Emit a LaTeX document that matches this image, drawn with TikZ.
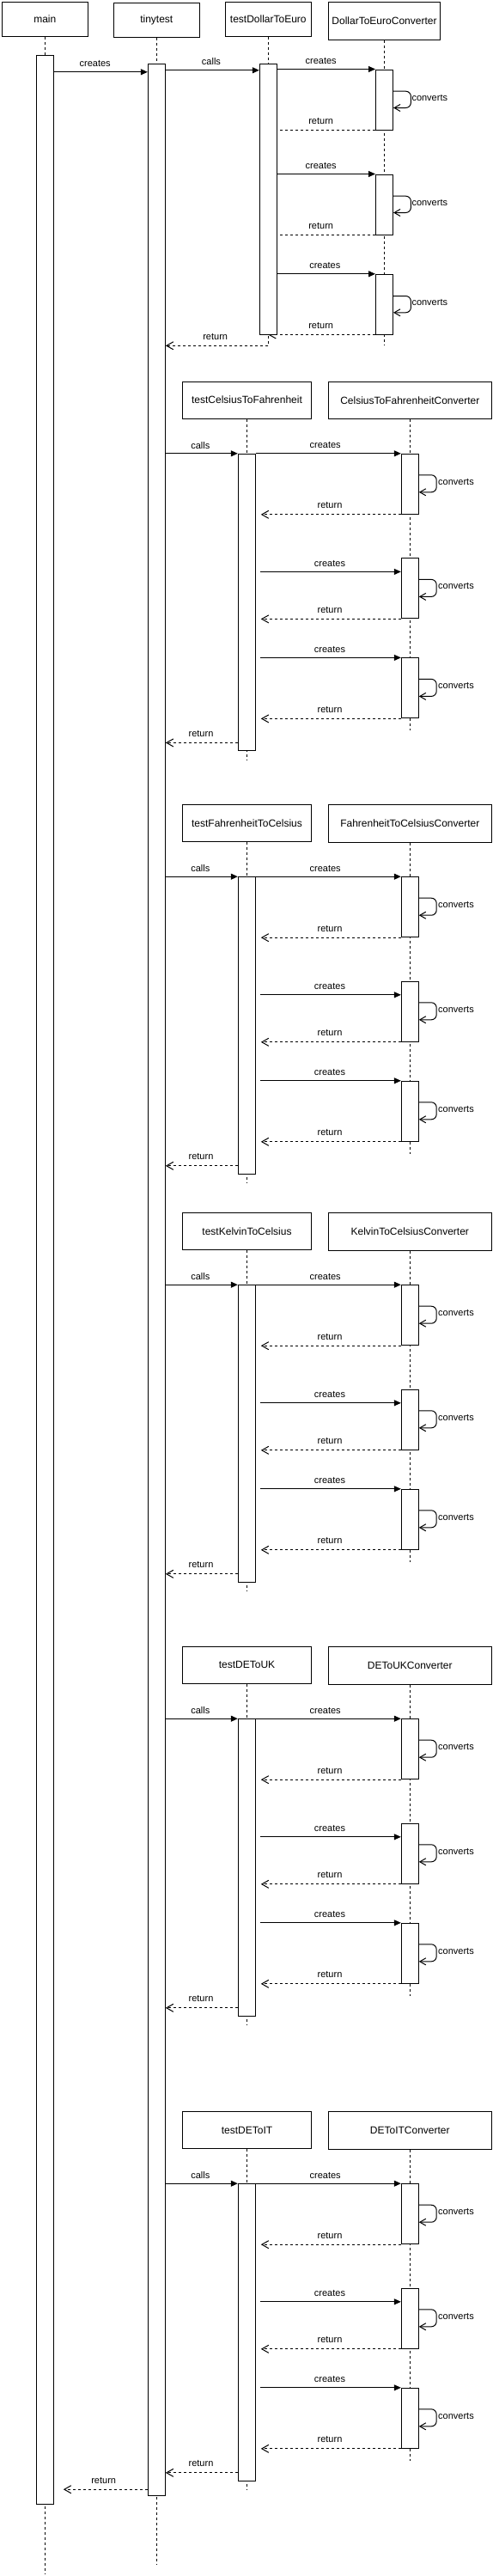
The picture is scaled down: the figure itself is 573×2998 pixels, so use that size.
\documentclass[tikz,border=0pt]{standalone}
\usepackage{fontspec}
\setmainfont{Liberation Sans}
\usetikzlibrary{arrows.meta,calc}
\pgfdeclarelayer{bg}
\pgfsetlayers{bg,main}
\tikzset{
  hdr/.style={draw, line width=1pt, fill=white, inner sep=0pt, font=\fontsize{12}{14}\selectfont},
  actbar/.style={draw, line width=1pt, fill=white, inner sep=0pt, minimum width=20pt},
  life/.style={line width=1pt, dash pattern=on 3pt off 3pt},
  syncmsg/.style={line width=1pt, -{Triangle[length=8pt,width=7pt]}},
  retmsg/.style={line width=1pt, dash pattern=on 3pt off 3pt, -{Straight Barb[length=8pt,width=9pt]}},
  selfmsg/.style={line width=1pt, rounded corners=6pt, -{Straight Barb[length=7pt,width=8pt]}},
  lbl/.style={font=\fontsize{11}{13}\selectfont, inner sep=0pt, anchor=base},
  lblw/.style={font=\fontsize{11}{13}\selectfont, inner sep=0pt, anchor=base west},
}
\newcommand{\abar}[4]{%
  \pgfmathsetmacro{\abh}{(#4)-(#3)}%
  \pgfmathsetmacro{\abc}{((#3)+(#4))/2}%
  \node[actbar, minimum height=\abh pt] (#1) at (#2,\abc) {};%
}
\newcommand{\selfloop}[3]{%
  \draw[selfmsg] ($(#1.north east)+(0,#2)$) -- ++(20.4,0) -- ++(0,#3) -- ++(-20.4,0);%
}
\newcommand{\convsec}[4]{%
  \pgfmathsetmacro{\sT}{#4}%
  \node[hdr, minimum width=150.4pt, minimum height=43pt] (#1t) at (287.5,{\sT-62.8}) {#2};
  \node[hdr, minimum width=190pt, minimum height=43.9pt] (#1c) at (477.3,{\sT-62.35}) {#3};
  \abar{#1tb}{287.3}{\sT}{\sT+345.6}%
  \abar{#1b1}{477.3}{\sT}{\sT+70}%
  \abar{#1b2}{477.3}{\sT+121.6}{\sT+191.6}%
  \abar{#1b3}{477.3}{\sT+237.6}{\sT+307.6}%
  \coordinate (#1te) at (287.3,{\sT+356});
  \coordinate (#1ce) at (477.3,{\sT+321.8});
  \coordinate (#1rs) at ($(#1tb.south west)+(0,-10)$);
  \begin{pgfonlayer}{bg}
    \draw[life] (#1t.south) -- (#1t.south |- #1te);
    \draw[life] (#1c.south) -- (#1c.south |- #1ce);
    \draw[syncmsg] (tinybar.east |- #1tb.north) -- (#1tb.north west);
    \draw[syncmsg] (#1tb.north east) -- (#1b1.north west);
    \draw[syncmsg] ($(#1tb.east |- #1b2.north)+(5,16)$) -- ($(#1b2.north west)+(0,16)$);
    \draw[syncmsg] ($(#1tb.east |- #1b3.north)+(5,0)$) -- (#1b3.north west);
    \draw[retmsg] (#1b1.south west) -- ($(#1tb.east |- #1b1.south)+(6,0)$);
    \draw[retmsg] (#1b2.south west) -- ($(#1tb.east |- #1b2.south)+(6,0)$);
    \draw[retmsg] (#1b3.south west) -- ($(#1tb.east |- #1b3.south)+(6,0)$);
    \draw[retmsg] (#1rs) -- (tinybar.east |- #1rs);
  \end{pgfonlayer}
  \selfloop{#1b1}{25}{20}
  \selfloop{#1b2}{25}{20}
  \selfloop{#1b3}{25}{20}
  \node[lbl] (#1lc) at (233.3,{\sT-6}) {calls};
  \node[lbl] (#1l1) at (378.7,{\sT-6.7}) {creates};
  \node[lbl] (#1l2) at (384,{\sT+130.9}) {creates};
  \node[lbl] (#1l3) at (384,{\sT+230.9}) {creates};
  \node[lbl] (#1r1) at (384,{\sT+63.3}) {return};
  \node[lbl] (#1r2) at (384,{\sT+184.9}) {return};
  \node[lbl] (#1r3) at (384,{\sT+300.9}) {return};
  \node[lbl] (#1rt) at (234,{\sT+328.9}) {return};
  \node[lblw] (#1k1) at (510,{\sT+36}) {converts};
  \node[lblw] (#1k2) at (510,{\sT+157.6}) {converts};
  \node[lblw] (#1k3) at (510,{\sT+273.6}) {converts};
}
\begin{document}
\begin{tikzpicture}[x=1pt,y=-1pt]
\begin{pgfonlayer}{bg}
\fill[white] (0,0) rectangle (573,2998);
\end{pgfonlayer}
\useasboundingbox (0,0) rectangle (573,2998);

% heads of section 1
\node[hdr, minimum width=100pt, minimum height=40pt] (main) at (52.3,22.3) {main};
\node[hdr, minimum width=100pt, minimum height=40pt] (tiny) at (182.3,23.3) {tinytest};
\node[hdr, minimum width=100pt, minimum height=40pt] (tde) at (312.3,22.3) {testDollarToEuro};
\node[hdr, minimum width=130.4pt, minimum height=44pt] (dec) at (447.5,24.3) {DollarToEuroConverter};

\abar{mainbar}{52.3}{64.3}{2914.3}
\abar{tinybar}{182.3}{74.3}{2904.3}
\abar{tdebar}{312.3}{74.3}{389}
\abar{decb1}{447.5}{81}{151}
\abar{decb2}{447.5}{203}{273}
\abar{decb3}{447.5}{319.3}{389}

\coordinate (mainend) at (52.3,2995);
\coordinate (tinyend) at (182.3,2985);
\coordinate (tdeend) at (312.3,402.3);
\coordinate (decend) at (447.5,402.3);
\coordinate (finalret) at ($(tinybar.south west)+(0,-7.6)$);

\begin{pgfonlayer}{bg}
  \draw[life] (main.south) -- (main.south |- mainend);
  \draw[life] (tiny.south) -- (tiny.south |- tinyend);
  \draw[life] (tde.south) -- (tde.south |- tdeend);
  \draw[life] (dec.south) -- (dec.south |- decend);
  \draw[syncmsg] ($(mainbar.north east)+(0,20)$) -- ($(tinybar.north west)+(0,10)$);
  \draw[syncmsg] ($(tinybar.north east)+(0,8)$) -- ($(tdebar.north west)+(0,8)$);
  \draw[syncmsg] (tdebar.east |- decb1.north) -- (decb1.north west);
  \draw[syncmsg] (tdebar.east |- decb2.north) -- (decb2.north west);
  \draw[syncmsg] (tdebar.east |- decb3.north) -- (decb3.north west);
  \draw[retmsg] (decb1.south west) -- (tde |- decb1.south);
  \draw[retmsg] (decb2.south west) -- (tde |- decb2.south);
  \draw[retmsg] (decb3.south west) -- (tde |- decb3.south);
  \draw[retmsg] (tdeend) -- (tinybar.east |- tdeend);
  \draw[retmsg] (finalret) -- ($(mainbar.east |- finalret)+(11,0)$);
\end{pgfonlayer}

\selfloop{decb1}{25.7}{19.3}
\selfloop{decb2}{25.7}{19.3}
\selfloop{decb3}{25.7}{19.3}

\node[lbl] (lmc) at (110.7,77.6) {creates};
\node[lbl] (ltc) at (246,75.6) {calls};
\node[lbl] (ld1) at (373.7,74.3) {creates};
\node[lbl] (ld2) at (373.7,196.3) {creates};
\node[lbl] (ld3) at (378.3,312.6) {creates};
\node[lbl] (lr1) at (373.7,144.3) {return};
\node[lbl] (lr2) at (373.7,266.3) {return};
\node[lbl] (lr3) at (373.7,382.3) {return};
\node[lbl] (lrt) at (250.7,395.6) {return};
\node[lbl] (lrm) at (120.7,2890) {return};
\node[lblw] (lk1) at (479.3,117) {converts};
\node[lblw] (lk2) at (479.3,239) {converts};
\node[lblw] (lk3) at (479.3,355.3) {converts};

\convsec{ctf}{testCelsiusToFahrenheit}{CelsiusToFahrenheitConverter}{528.3}
\convsec{ftc}{testFahrenheitToCelsius}{FahrenheitToCelsiusConverter}{1020.7}
\convsec{ktc}{testKelvinToCelsius}{KelvinToCelsiusConverter}{1495.7}
\convsec{uk}{testDEToUK}{DEToUKConverter}{2000.7}
\convsec{it}{testDEToIT}{DEToITConverter}{2541.7}
\end{tikzpicture}
\end{document}
